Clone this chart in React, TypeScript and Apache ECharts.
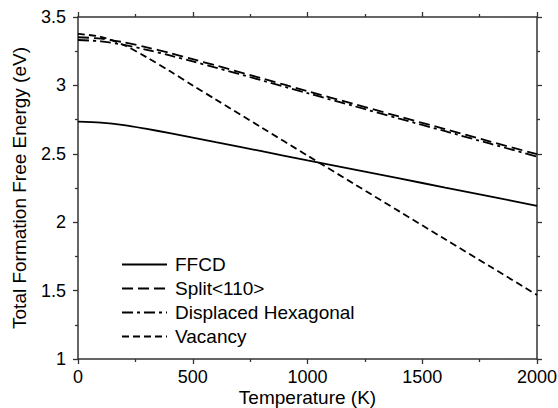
import React, { useEffect, useRef } from "react";
import * as echarts from "echarts";

const temps = [0, 100, 200, 300, 400, 500, 600, 800, 1000, 1200, 1400, 1600, 1800, 2000];
const ffcd = [2.735, 2.728, 2.71, 2.682, 2.651, 2.619, 2.585, 2.519, 2.452, 2.386, 2.32, 2.253, 2.187, 2.12];
const split110 = [3.352, 3.342, 3.315, 3.278, 3.237, 3.192, 3.146, 3.052, 2.958, 2.865, 2.772, 2.68, 2.588, 2.497];
const displacedHex = [3.332, 3.322, 3.296, 3.26, 3.219, 3.175, 3.13, 3.037, 2.943, 2.85, 2.757, 2.665, 2.572, 2.48];
const vacancy = [3.376, 3.355, 3.295, 3.205, 3.105, 3.0, 2.897, 2.692, 2.487, 2.283, 2.079, 1.875, 1.672, 1.468];

const seriesNames = ["FFCD", "Split<110>", "Displaced Hexagonal", "Vacancy"];
const seriesValues = [ffcd, split110, displacedHex, vacancy];
const dashes: (string | number[])[] = ["solid", [11, 5], [11, 4, 3, 4], [7, 4]];

const FONT = "'Liberation Sans', Arial, Helvetica, sans-serif";

export default function App() {
  const ref = useRef<HTMLDivElement>(null);
  useEffect(() => {
    if (!ref.current) return;
    const chart = echarts.init(ref.current, undefined, { renderer: "svg" });
    const axisLine = () => ({ show: true, onZero: false, lineStyle: { color: "#333", width: 1.5 } });
    const tick = () => ({ show: true, inside: false, length: 5, lineStyle: { color: "#333", width: 1.3 } });
    const minor = () => ({ show: true, splitNumber: 2, length: 3, lineStyle: { color: "#333", width: 1.3 } });
    const fmt = (v: number) => String(v);
    chart.setOption({
      animation: false,
      backgroundColor: "#fff",
      grid: { left: 78, right: 21, top: 17, bottom: 49, containLabel: false, outerBoundsMode: "none" },
      legend: {
        orient: "vertical",
        left: 121,
        top: 255,
        padding: 0,
        itemWidth: 45,
        itemHeight: 14,
        itemGap: 5,
        itemStyle: { opacity: 0 },
        textStyle: { fontSize: 19, fontFamily: FONT, color: "#000", padding: [0, 0, 0, 3] },
        data: seriesNames,
      },
      xAxis: [
        {
          type: "value",
          position: "bottom",
          min: 0,
          max: 2000,
          interval: 500,
          axisLine: axisLine(),
          axisTick: tick(),
          minorTick: minor(),
          splitLine: { show: false },
          minorSplitLine: { show: false },
          axisLabel: { fontSize: 18, fontFamily: FONT, color: "#000", margin: 9, formatter: fmt },
          name: "Temperature (K)",
          nameLocation: "middle",
          nameGap: 29,
          nameMoveOverlap: false,
          nameTextStyle: { fontSize: 19, fontFamily: FONT, color: "#000" },
        },
        {
          type: "value",
          position: "top",
          min: 0,
          max: 2000,
          interval: 500,
          axisLine: axisLine(),
          axisTick: tick(),
          minorTick: minor(),
          splitLine: { show: false },
          axisLabel: { show: false },
        },
      ],
      yAxis: [
        {
          type: "value",
          position: "left",
          min: 1,
          max: 3.5,
          interval: 0.5,
          axisLine: axisLine(),
          axisTick: tick(),
          minorTick: minor(),
          splitLine: { show: false },
          axisLabel: { fontSize: 18, fontFamily: FONT, color: "#000", margin: 12, formatter: fmt },
          name: "Total Formation Free Energy (eV)",
          nameLocation: "middle",
          nameGap: 49,
          nameMoveOverlap: false,
          nameTextStyle: { fontSize: 19, fontFamily: FONT, color: "#000" },
        },
        {
          type: "value",
          position: "right",
          min: 1,
          max: 3.5,
          interval: 0.5,
          axisLine: axisLine(),
          axisTick: tick(),
          minorTick: minor(),
          splitLine: { show: false },
          axisLabel: { show: false },
        },
      ],
      series: seriesNames.map((name, i) => ({
        name,
        type: "line",
        xAxisIndex: 0,
        yAxisIndex: 0,
        symbol: "none",
        smooth: 0.3,
        data: temps.map((t, j) => [t, seriesValues[i][j]]),
        lineStyle: { color: "#000", width: 1.8, type: dashes[i] },
        itemStyle: { color: "#000" },
      })),
    });
    return () => chart.dispose();
  }, []);
  return <div ref={ref} style={{ width: 558, height: 408, position: "absolute", left: 0, top: 0 }} />;
}
